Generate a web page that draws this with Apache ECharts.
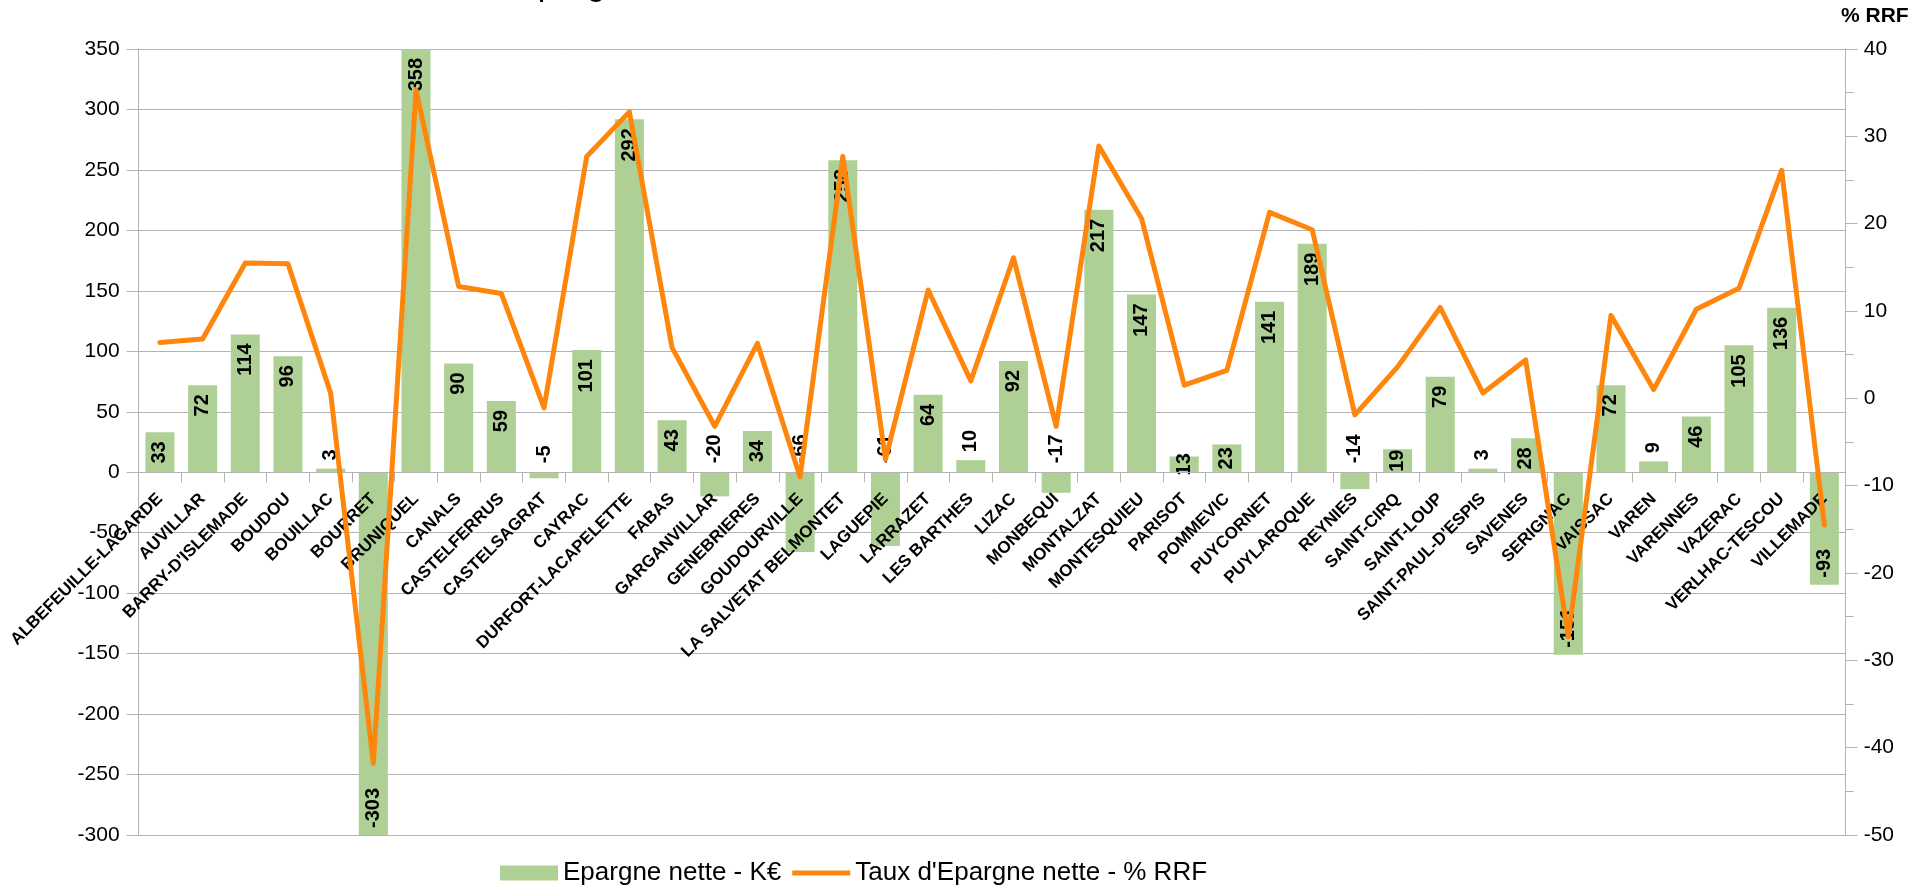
<!DOCTYPE html>
<html>
<head>
<meta charset="utf-8">
<title>Epargne nette</title>
<script src="https://cdn.jsdelivr.net/npm/echarts@6/dist/echarts.min.js"></script>
<style>
  html, body { margin: 0; padding: 0; background: #ffffff; }
  #chart { width: 1923px; height: 888px; }
</style>
</head>
<body>
<div id="chart"></div>
<script>
// Communes (category axis)
const communes = [
  'ALBEFEUILLE-LAGARDE', 'AUVILLAR', "BARRY-D'ISLEMADE", 'BOUDOU', 'BOUILLAC',
  'BOURRET', 'BRUNIQUEL', 'CANALS', 'CASTELFERRUS', 'CASTELSAGRAT',
  'CAYRAC', 'DURFORT-LACAPELETTE', 'FABAS', 'GARGANVILLAR', 'GENEBRIERES',
  'GOUDOURVILLE', 'LA SALVETAT BELMONTET', 'LAGUEPIE', 'LARRAZET', 'LES BARTHES',
  'LIZAC', 'MONBEQUI', 'MONTALZAT', 'MONTESQUIEU', 'PARISOT',
  'POMMEVIC', 'PUYCORNET', 'PUYLAROQUE', 'REYNIES', 'SAINT-CIRQ',
  'SAINT-LOUP', "SAINT-PAUL-D'ESPIS", 'SAVENES', 'SERIGNAC', 'VAISSAC',
  'VAREN', 'VARENNES', 'VAZERAC', 'VERLHAC-TESCOU', 'VILLEMADE'
];

// Epargne nette, K€ (bars, left axis)
const epargneNette = [
  33, 72, 114, 96, 3,
  -303, 358, 90, 59, -5,
  101, 292, 43, -20, 34,
  -66, 258, -61, 64, 10,
  92, -17, 217, 147, 13,
  23, 141, 189, -14, 19,
  79, 3, 28, -151, 72,
  9, 46, 105, 136, -93
];

// Taux d'épargne nette, % RRF (line, right axis)
const tauxEpargne = [
  6.4, 6.8, 15.5, 15.4, 0.6,
  -41.8, 35.3, 12.8, 12.0, -1.1,
  27.7, 32.8, 5.8, -3.2, 6.3,
  -9.0, 27.7, -7.0, 12.4, 2.0,
  16.1, -3.2, 28.9, 20.6, 1.5,
  3.2, 21.3, 19.3, -1.9, 3.6,
  10.4, 0.6, 4.4, -27.3, 9.5,
  1.0, 10.2, 12.6, 26.1, -14.5
];

// Axis ranges
const leftAxisRange = { min: -300, max: 350, interval: 50 };
const rightAxisRange = { min: -50, max: 40, interval: 10 };

const seriesNames = ['Epargne nette - K\u20ac', "Taux d'Epargne nette - % RRF"];
const titleText = 'Epargne nette';
const rightAxisTitle = '% RRF';

const FONT = '"Liberation Sans", Arial, sans-serif';
const GREEN = '#afd095';
const ORANGE = '#ff860d';
const GREY = '#b3b3b3';
const CATEGORY_LABEL_GAP = 24; // distance of commune names below the zero line

// Vertical value labels: inside the bar end when it fits, centred on short bars,
// above the baseline for tiny or small negative bars.
function barLabel(v) {
  const base = {
    show: true, rotate: 90, verticalAlign: 'middle',
    fontSize: 20, fontWeight: 'bold', color: '#000', fontFamily: FONT
  };
  if (v >= 28) return Object.assign(base, { position: 'insideTop', align: 'right', distance: 9 });
  if (v > 10) return Object.assign(base, { position: 'inside', align: 'center' });
  if (v >= 0) return Object.assign(base, { position: 'top', align: 'left', distance: 8 });
  if (v > -90) return Object.assign(base, { position: 'top', align: 'left', distance: 9 });
  return Object.assign(base, { position: 'insideBottom', align: 'left', distance: 7 });
}

const barData = epargneNette.map(v => ({ value: v, label: barLabel(v) }));

const chart = echarts.init(document.getElementById('chart'), null, { renderer: 'canvas' });

chart.setOption({
  animation: false,
  backgroundColor: '#ffffff',
  textStyle: { fontFamily: FONT },
  grid: {
    left: 138.6, right: 77.3, top: 49, bottom: 53,
    containLabel: false, outerBoundsMode: 'none'
  },
  graphic: [
    {
      // title sits above the top edge of the canvas
      type: 'text', left: 515, top: -31, silent: true,
      style: { text: titleText, font: '34px ' + FONT, fill: '#000' }
    },
    {
      type: 'text', left: 1841, top: 6, silent: true,
      style: { text: rightAxisTitle, font: 'bold 21px ' + FONT, fill: '#000' }
    }
  ],
  legend: {
    left: 495, top: 855,
    itemWidth: 58, itemHeight: 15, itemGap: 11,
    textStyle: { fontSize: 26, color: '#000', fontFamily: FONT },
    data: [
      { name: seriesNames[0], icon: 'rect' },
      { name: seriesNames[1], icon: 'path://M0,0H58V5H0Z' }
    ]
  },
  xAxis: {
    type: 'category',
    data: communes,
    boundaryGap: true,
    z: 3,
    axisLine: { show: true, onZero: true, onZeroAxisIndex: 0, lineStyle: { color: GREY, width: 1 } },
    axisTick: { show: true, alignWithLabel: false, length: 10, lineStyle: { color: GREY } },
    axisLabel: {
      interval: 0, rotate: 45, margin: CATEGORY_LABEL_GAP,
      fontSize: 17, fontWeight: 'bold', color: '#000', fontFamily: FONT
    },
    splitLine: { show: false }
  },
  yAxis: [
    {
      type: 'value',
      min: leftAxisRange.min, max: leftAxisRange.max, interval: leftAxisRange.interval,
      axisLine: { show: true, lineStyle: { color: GREY } },
      axisTick: { show: true, length: 12, lineStyle: { color: GREY } },
      axisLabel: { fontSize: 21, color: '#000', margin: 19, fontFamily: FONT },
      splitLine: { show: true, lineStyle: { color: GREY, width: 1 } }
    },
    {
      type: 'value',
      position: 'right',
      min: rightAxisRange.min, max: rightAxisRange.max, interval: rightAxisRange.interval,
      axisLine: { show: true, lineStyle: { color: GREY } },
      axisTick: { show: true, length: 12, lineStyle: { color: GREY } },
      minorTick: { show: true, splitNumber: 2, length: 8, lineStyle: { color: GREY } },
      axisLabel: { fontSize: 21, color: '#000', margin: 18, fontFamily: FONT },
      splitLine: { show: false },
      minorSplitLine: { show: false }
    }
  ],
  series: [
    {
      name: seriesNames[0],
      type: 'bar',
      yAxisIndex: 0,
      data: barData,
      barCategoryGap: '32%',
      itemStyle: { color: GREEN },
      z: 2
    },
    {
      name: seriesNames[1],
      type: 'line',
      yAxisIndex: 1,
      data: tauxEpargne,
      symbol: 'none',
      showSymbol: false,
      lineStyle: { color: ORANGE, width: 5, join: 'round', cap: 'round' },
      itemStyle: { color: ORANGE },
      z: 5
    }
  ]
});

// Commune names sit just under the zero line rather than at the bottom edge of the grid:
// shift them up by the distance between the axis minimum and zero on the left scale.
const zeroY = chart.convertToPixel({ yAxisIndex: 0 }, 0);
const bottomY = chart.convertToPixel({ yAxisIndex: 0 }, leftAxisRange.min);
chart.setOption({
  xAxis: { axisLabel: { margin: zeroY - bottomY + CATEGORY_LABEL_GAP } }
});
</script>
</body>
</html>
